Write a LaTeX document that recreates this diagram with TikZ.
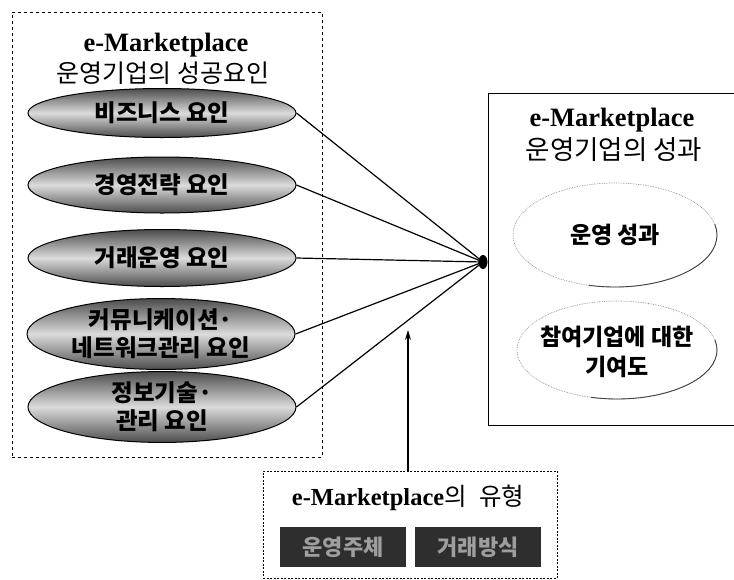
\documentclass[tikz,border=0pt]{standalone}
\usepackage{fontspec}
\setmainfont{Liberation Serif}
\newfontfamily\kr{Noto Sans CJK KR}
\usetikzlibrary{shapes.geometric,arrows.meta}
\begin{document}
\begin{tikzpicture}[x=1pt,y=-1pt,
  factor/.style={ellipse, draw=black, line width=1pt,
    top color=black!70, bottom color=black!70, middle color=black!14,
    minimum width=268pt, inner sep=0pt, align=center,
    font=\kr\bfseries\fontsize{23.5}{28}\selectfont},
  outcome/.style={ellipse, draw=black!45, densely dotted, line width=0.7pt,
    minimum width=204pt, minimum height=104pt, inner sep=0pt},
  outtext/.style={inner sep=0pt, align=center,
    font=\kr\bfseries\fontsize{23}{30}\selectfont},
  typebox/.style={rectangle, fill=black!82, text=black!38,
    minimum width=126pt, minimum height=40pt, inner sep=0pt,
    font=\kr\bfseries\fontsize{22}{24}\selectfont},
  entitle/.style={font=\bfseries\fontsize{26.5}{28}\selectfont, inner sep=0pt},
  krtitle/.style={font=\kr\fontsize{25}{28}\selectfont, inner sep=0pt},
  link/.style={line width=1.2pt, draw=black}]
\useasboundingbox (0,0) rectangle (734,579);
\clip (0,0) rectangle (734,579);
\fill[white] (0,0) rectangle (734,579);

% left dashed frame
\node[draw, dashed, line width=0.9pt, minimum width=310pt, minimum height=445pt,
      inner sep=0pt, anchor=north west] (lbox) at (12,12) {};
\node[entitle] (lt1) at (166,45) {e-Marketplace};
\node[krtitle] (lt2) at (163,73) {운영기업의 성공요인};

\node[factor, minimum height=49pt] (f1) at (162,113) {비즈니스 요인};
\node[factor, minimum height=56pt] (f2) at (162,185) {경영전략 요인};
\node[factor, minimum height=57pt] (f3) at (162,258) {거래운영 요인};
\node[factor, minimum height=62pt] (f4) at (161,334) {커뮤니케이션·\\네트워크관리 요인};
\node[factor, minimum height=65pt] (f5) at (162,407) {정보기술·\\관리 요인};

% right box (extends past the right edge)
\node[draw, line width=1pt, minimum width=270pt, minimum height=332pt,
      inner sep=0pt, anchor=north west] (rbox) at (488,93) {};
\node[entitle] (rt1) at (612,120) {e-Marketplace};
\node[krtitle, font=\kr\fontsize{26.5}{28}\selectfont] (rt2) at (614,150) {운영기업의 성과};

\node[outcome] (o1) at (615,235) {};
\node[outtext] (o1t) at (o1.center) {운영 성과};
\draw[black!75, line width=0.9pt]
  ([shift={(-12:102 and 52)}]o1.center) arc[start angle=-12, end angle=105, x radius=102, y radius=52];
\node[outcome, minimum width=200pt, minimum height=98pt] (o2) at (617,350) {};
\node[outtext] (o2t) at ([yshift=-2pt]o2.center) {참여기업에 대한\\기여도};
\draw[black!75, line width=0.9pt]
  ([shift={(-12:100 and 49)}]o2.center) arc[start angle=-12, end angle=105, x radius=100, y radius=49];

% hub
\node[ellipse, fill=black, inner sep=0pt, minimum width=9pt, minimum height=14pt] (hub) at (483,262) {};
\foreach \f in {f1,f2,f3,f4,f5} \draw[link] (\f.east) -- (hub.center);

% bottom box
\node[draw, dashed, dash pattern=on 2pt off 1.5pt, line width=0.7pt, minimum width=294pt, minimum height=107pt,
      inner sep=0pt, anchor=north west] (bbox) at (263,471) {};
\node[inner sep=0pt] (bt) at (408,498) {\bfseries\fontsize{24.5}{26}\selectfont e-Marketplace{\kr\mdseries 의\hspace{0.5em}유형}};
\node[typebox] (t1) at (343,547) {운영주체};
\node[typebox] (t2) at (478,547) {거래방식};

\coordinate (tip) at (408,330);
\draw[link, -{Stealth[length=10pt,width=6pt]}] (tip |- bbox.north) -- (tip);
\end{tikzpicture}
\end{document}
